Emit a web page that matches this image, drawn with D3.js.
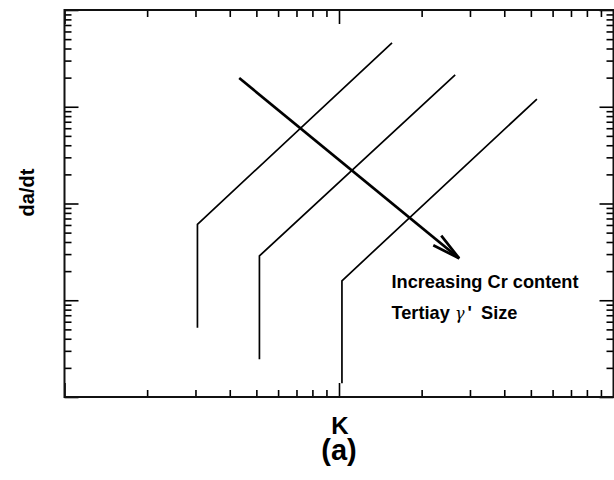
<!DOCTYPE html>
<html>
<head>
<meta charset="utf-8">
<script src="https://cdn.jsdelivr.net/npm/d3@7"></script>
<style>
  html, body { margin: 0; padding: 0; background: #fff; }
  svg { display: block; }
  text { font-family: "Liberation Sans", Arial, sans-serif; }
</style>
</head>
<body>
<svg id="chart" width="614" height="480"></svg>
<script>
// ---- data (x = K, y = da/dt, log-log) ----
const seriesNames = ["low Cr", "mid Cr", "high Cr"];
const line1K   = [3.05, 3.05, 15.6];
const line1Rate = [5.2e-8, 6.1e-7, 4.56e-5];
const line2K   = [5.13, 5.13, 26.5];
const line2Rate = [2.45e-8, 2.87e-7, 2.14e-5];
const line3K   = [10.25, 10.25, 52.6];
const line3Rate = [1.39e-8, 1.59e-7, 1.2e-5];
const arrowK    = [4.33, 27.4];
const arrowRate = [1.98e-5, 2.71e-7];
const xDomain = [1, 100];
const yDomain = [1e-8, 1e-4];
const annotation1 = "Increasing Cr content";
const annotation2 = ["Tertiay", "\u03B3", "'", "Size"];
const xLabel = "K", yLabel = "da/dt", panelLabel = "(a)";

const svg = d3.select("#chart");
const L = 64.5, R = 613.5, T = 10, B = 397;
const x = d3.scaleLog().domain(xDomain).range([L, R]);
const y = d3.scaleLog().domain(yDomain).range([B, T]);

function minorTicks(domain) {
  const out = [];
  for (let e = Math.round(Math.log10(domain[0])); e < Math.round(Math.log10(domain[1])); e++)
    for (let m = 2; m <= 9; m++) out.push(m * Math.pow(10, e));
  return out;
}
function majorTicks(domain) {
  const out = [];
  for (let e = Math.round(Math.log10(domain[0])); e <= Math.round(Math.log10(domain[1])); e++)
    out.push(Math.pow(10, e));
  return out;
}
const xMin = minorTicks(xDomain), xMaj = majorTicks(xDomain);
const yMin = minorTicks(yDomain), yMaj = majorTicks(yDomain);

function styleAxis(g) {
  g.select(".domain").remove();
  g.selectAll(".tick line").attr("stroke", "#000").attr("stroke-width", 1.6);
  g.selectAll(".tick text").remove();
}
const axes = [
  [d3.axisBottom(x), xMin, -7, `translate(0,${B})`],
  [d3.axisBottom(x), xMaj, -14, `translate(0,${B})`],
  [d3.axisTop(x), xMin, -7, `translate(0,${T})`],
  [d3.axisTop(x), xMaj, -14, `translate(0,${T})`],
  [d3.axisLeft(y), yMin, -7, `translate(${L},0)`],
  [d3.axisLeft(y), yMaj, -14, `translate(${L},0)`],
  [d3.axisRight(y), yMin, -7, `translate(${R},0)`],
  [d3.axisRight(y), yMaj, -14, `translate(${R},0)`]
];
axes.forEach(([ax, vals, size, tr]) => {
  svg.append("g").attr("transform", tr)
    .call(ax.tickValues(vals).tickSize(size).tickSizeOuter(0).tickFormat(""))
    .call(styleAxis);
});

// frame
svg.append("rect").attr("x", L).attr("y", T).attr("width", R - L).attr("height", B - T)
  .attr("fill", "none").attr("stroke", "#111").attr("stroke-width", 2);

// lines
const lineGen = d3.line().x(d => x(d[0])).y(d => y(d[1]));
[[line1K, line1Rate], [line2K, line2Rate], [line3K, line3Rate]].forEach(([ks, rs]) => {
  svg.append("path").datum(ks.map((k, i) => [k, rs[i]]))
    .attr("d", lineGen).attr("fill", "none").attr("stroke", "#000").attr("stroke-width", 1.7);
});

// arrow
const a0 = [x(arrowK[0]), y(arrowRate[0])], a1 = [x(arrowK[1]), y(arrowRate[1])];
svg.append("path").datum(arrowK.map((k, i) => [k, arrowRate[i]]))
  .attr("d", lineGen).attr("fill", "none").attr("stroke", "#000").attr("stroke-width", 2.7);
const ang = Math.atan2(a1[1] - a0[1], a1[0] - a0[0]);
const hl = 29, ha = 12.5 * Math.PI / 180;
const b1 = [a1[0] - hl * Math.cos(ang - ha), a1[1] - hl * Math.sin(ang - ha)];
const b2 = [a1[0] - hl * Math.cos(ang + ha), a1[1] - hl * Math.sin(ang + ha)];
svg.append("path").attr("d", `M${b1[0]},${b1[1]}L${a1[0]},${a1[1]}L${b2[0]},${b2[1]}`)
  .attr("fill", "none").attr("stroke", "#000").attr("stroke-width", 2.7);

// annotations
svg.append("text").attr("x", 391.5).attr("y", 287.5)
  .attr("font-size", 18.2).attr("font-weight", "bold").text(annotation1);
const t2 = svg.append("text").attr("y", 318.5).attr("font-size", 18.2).attr("font-weight", "bold");
t2.append("tspan").attr("x", 391.5).text(annotation2[0]);
t2.append("tspan").attr("x", 455).attr("font-weight", "normal").attr("font-style", "italic")
  .attr("font-family", "DejaVu Serif, serif").attr("font-size", 16).text(annotation2[1]);
t2.append("tspan").attr("x", 467.5).text(annotation2[2]);
t2.append("tspan").attr("x", 481).text(annotation2[3]);

// axis labels
svg.append("text").attr("transform", "translate(33.5,192.5) rotate(-90)")
  .attr("text-anchor", "middle").attr("font-size", 20).attr("font-weight", "bold").text(yLabel);
svg.append("text").attr("x", 340).attr("y", 433.5).attr("text-anchor", "middle")
  .attr("font-size", 24).attr("font-weight", "bold").text(xLabel);
svg.append("text").attr("x", 339).attr("y", 460).attr("text-anchor", "middle")
  .attr("font-size", 29).attr("font-weight", "bold").text(panelLabel);
</script>
</body>
</html>
